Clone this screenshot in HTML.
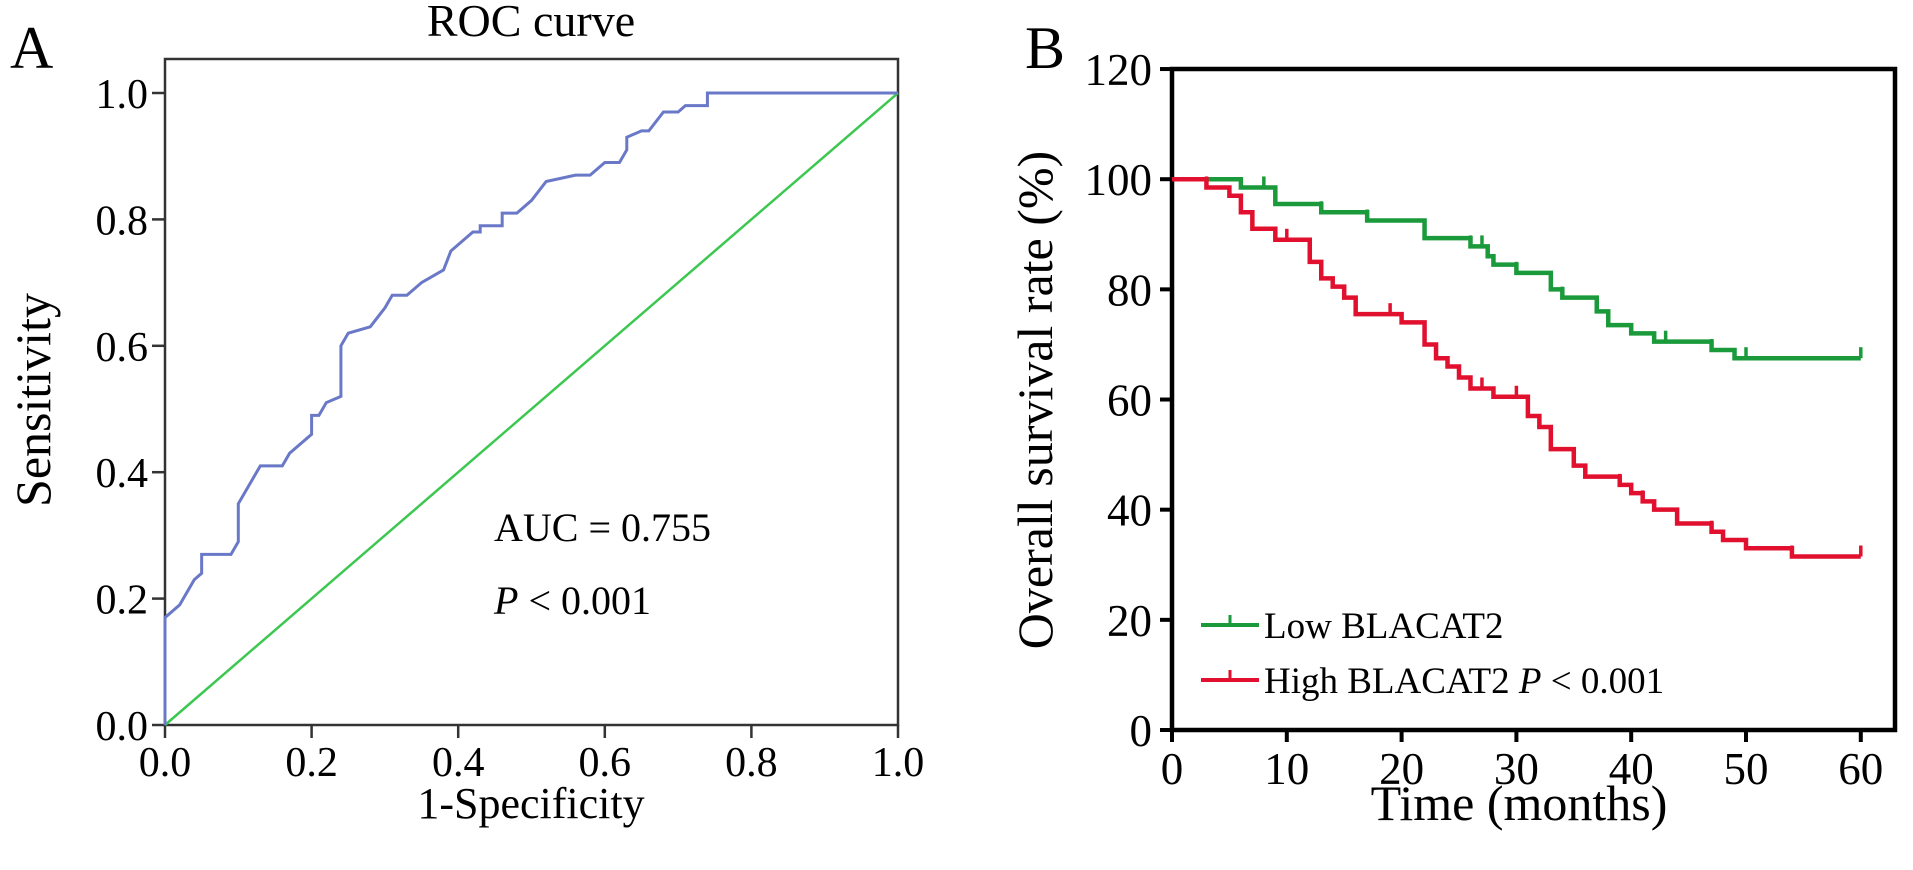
<!DOCTYPE html>
<html><head><meta charset="utf-8"><style>
body{margin:0;background:#fff;}
svg{display:block;font-family:"Liberation Serif",serif;}
</style></head><body>
<svg id="fig" width="1913" height="870" viewBox="0 0 1913 870" xmlns="http://www.w3.org/2000/svg">
<g id="pa">
<text x="10" y="68" font-size="60">A</text>
<text x="531" y="36" font-size="46" text-anchor="middle">ROC curve</text>
<text transform="translate(50,400) rotate(-90)" font-size="50" text-anchor="middle">Sensitivity</text>
<text x="531" y="818" font-size="44" text-anchor="middle">1-Specificity</text>
<text x="494" y="541" font-size="40">AUC = 0.755</text>
<text x="494" y="614" font-size="40"><tspan font-style="italic">P</tspan> &lt; 0.001</text>
</g>
<g id="pb">
<text x="1025" y="68" font-size="60">B</text>
<text transform="translate(1052,400) rotate(-90)" font-size="50" text-anchor="middle">Overall survival rate (%)</text>
<text x="1519" y="820" font-size="50" text-anchor="middle">Time (months)</text>
<g>
<line x1="1201" y1="625" x2="1259" y2="625" stroke="#1a9a3a" stroke-width="4"/>
<line x1="1230" y1="625" x2="1230" y2="615" stroke="#1a9a3a" stroke-width="3"/>
<text x="1264" y="638" font-size="37">Low BLACAT2</text>
<line x1="1201" y1="680" x2="1259" y2="680" stroke="#e0102e" stroke-width="4"/>
<line x1="1230" y1="680" x2="1230" y2="670" stroke="#e0102e" stroke-width="3"/>
<text x="1264" y="693" font-size="37">High BLACAT2 <tspan font-style="italic">P</tspan> &lt; 0.001</text>
</g>
</g>
</svg>
<script>
// ROC data
const rocFpr = [0,0,0.02,0.04,0.05,0.05,0.09,0.10,0.10,0.12,0.13,0.16,0.17,0.20,0.20,0.21,0.22,0.24,0.24,0.25,0.28,0.30,0.31,0.33,0.35,0.38,0.39,0.42,0.43,0.43,0.46,0.46,0.48,0.50,0.52,0.56,0.58,0.60,0.62,0.63,0.63,0.65,0.66,0.68,0.70,0.71,0.74,0.74,1.0];
const rocTpr = [0,0.17,0.19,0.23,0.24,0.27,0.27,0.29,0.35,0.39,0.41,0.41,0.43,0.46,0.49,0.49,0.51,0.52,0.60,0.62,0.63,0.66,0.68,0.68,0.70,0.72,0.75,0.78,0.78,0.79,0.79,0.81,0.81,0.83,0.86,0.87,0.87,0.89,0.89,0.91,0.93,0.94,0.94,0.97,0.97,0.98,0.98,1.0,1.0];
const rocTicks = ["0.0","0.2","0.4","0.6","0.8","1.0"];
// Survival data
const lowTimes = [0,6,9,13,17,22,26,27.5,28,30,33,34,37,38,40,42,47,49,60];
const lowSurv = [100,98.5,95.5,94,92.5,89.3,87.8,86,84.5,83,80,78.5,76,73.5,72,70.5,69,67.5,67.5];
const lowCensor = [8,13,17,26,27,30,34,38,43,47,50,60];
const highTimes = [0,3,5,6,7,9,12,13,14,15,16,20,22,23,24,25,26,28,31,32,33,35,36,39,40,41,42,44,47,48,50,54,60];
const highSurv = [100,98.5,97,94,91,89,85,82,80.5,78.5,75.5,74,70,67.5,66,64,62,60.5,57,55,51,48,46,44.5,43,41.5,40,37.5,36,34.5,33,31.5,31.5];
const highCensor = [3,10,15,19,22,27,30,33,39,41,44,47,54,60];
const kmYTicks = [0,20,40,60,80,100,120];
const kmXTicks = [0,10,20,30,40,50,60];

const NS="http://www.w3.org/2000/svg";
const svg=document.getElementById('fig');
function mk(tag,attrs,parent){const e=document.createElementNS(NS,tag);for(const k in attrs)e.setAttribute(k,attrs[k]);(parent||svg).appendChild(e);return e;}

const ax=v=>165+v*733, ay=v=>725-v*632;
const pa=document.getElementById('pa');
let r=mk('rect',{x:165,y:59,width:733,height:666,fill:'none',stroke:'#333',"stroke-width":2.5},pa);


rocTicks.forEach((t,i)=>{
  const v=parseFloat(t);
  let l=mk('line',{x1:152,x2:165,y1:ay(v),y2:ay(v),stroke:'#333',"stroke-width":2.5},pa);
  
  
  let tx=mk('text',{x:148,y:ay(v)+15,"font-size":42,"text-anchor":"end"},pa);tx.textContent=t;
  
  
  let l2=mk('line',{x1:ax(v),x2:ax(v),y1:725,y2:738,stroke:'#333',"stroke-width":2.5},pa);
  
  
  let tx2=mk('text',{x:ax(v),y:776,"font-size":42,"text-anchor":"middle"},pa);tx2.textContent=t;
  
  
});
let dg=mk('line',{x1:ax(0),y1:ay(0),x2:ax(1),y2:ay(1),stroke:'#3cc850',"stroke-width":2.5},pa);


let rp=mk('polyline',{points:rocFpr.map((x,i)=>ax(x)+','+ay(rocTpr[i])).join(' '),fill:'none',stroke:'#6a78c8',"stroke-width":3},pa);



const bx=v=>1172+v*11.48, by=v=>730-v*5.508;
const pb=document.getElementById('pb');
let fr=mk('path',{d:`M1172,69 H1895 V730 H1172 Z`,fill:'none',stroke:'#000',"stroke-width":4.5},pb);


kmYTicks.forEach(v=>{
  let l=mk('line',{x1:1160,x2:1172,y1:by(v),y2:by(v),stroke:'#000',"stroke-width":4},pb);
  
  
  let t=mk('text',{x:1152,y:by(v)+16,"font-size":45,"text-anchor":"end"},pb);t.textContent=v;
  
  
});
kmXTicks.forEach(v=>{
  let l=mk('line',{x1:bx(v),x2:bx(v),y1:730,y2:742,stroke:'#000',"stroke-width":4},pb);
  
  
  let t=mk('text',{x:bx(v),y:784,"font-size":45,"text-anchor":"middle"},pb);t.textContent=v;
  
  
});
function stepPath(T,S){let d=`M${bx(T[0])},${by(S[0])}`;for(let i=1;i<T.length;i++){d+=` H${bx(T[i])} V${by(S[i])}`;}return d;}
function survAt(T,S,t){let s=S[0];for(let i=0;i<T.length;i++){if(T[i]<=t)s=S[i];}return s;}
function drawKM(T,S,C,color,name){
  let p=mk('path',{d:stepPath(T,S),fill:'none',stroke:color,"stroke-width":4.5,"stroke-linejoin":"miter"},pb);
  
  
  C.forEach(c=>{
    const s=survAt(T,S,c);
    let l=mk('line',{x1:bx(c),x2:bx(c),y1:by(s),y2:by(s)-11,stroke:color,"stroke-width":3.5},pb);
    
    
  });
}
drawKM(lowTimes,lowSurv,lowCensor,'#1a9a3a','low');
drawKM(highTimes,highSurv,highCensor,'#e0102e','high');
</script>
</body></html>
